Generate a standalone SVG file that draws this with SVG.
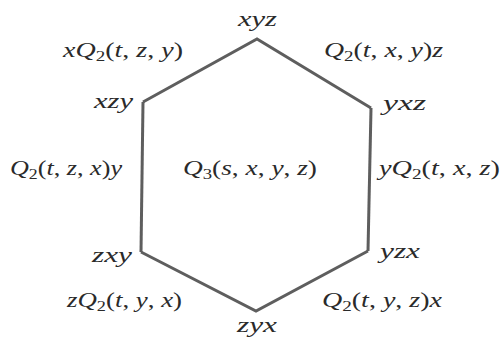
<svg xmlns="http://www.w3.org/2000/svg" width="503" height="338" viewBox="0 0 503 338">
<style>
text{font-family:"Liberation Serif","DejaVu Serif",serif;font-size:22px;fill:#2a2a2a}
.i{font-style:italic}
.s{font-size:15px}
.edge{fill:none;stroke:#5e5e5e;stroke-width:3;stroke-linejoin:miter}
</style>
<rect width="503" height="338" fill="#fff"/>
<g id="connectors">
<polyline class="edge" points="143,102 257,39 371,108"/>
<line class="edge" x1="143" y1="102" x2="141" y2="252"/>
<line class="edge" x1="371" y1="108" x2="368" y2="251"/>
<polyline class="edge" points="141,252 256,311 368,251"/>
</g>
<g id="v-xyz"><text x="238" y="26" class="i" textLength="39" lengthAdjust="spacingAndGlyphs">xyz</text></g>
<g id="v-xzy"><text x="94" y="108" class="i" textLength="39" lengthAdjust="spacingAndGlyphs">xzy</text></g>
<g id="v-yxz"><text x="383" y="110" class="i" textLength="43" lengthAdjust="spacingAndGlyphs">yxz</text></g>
<g id="v-zxy"><text x="92" y="262" class="i" textLength="40" lengthAdjust="spacingAndGlyphs">zxy</text></g>
<g id="v-yzx"><text x="380" y="258" class="i" textLength="40" lengthAdjust="spacingAndGlyphs">yzx</text></g>
<g id="v-zyx"><text x="237" y="332" class="i" textLength="40" lengthAdjust="spacingAndGlyphs">zyx</text></g>
<g id="e-top-left"><text x="63" y="57" textLength="120" lengthAdjust="spacingAndGlyphs"><tspan class="i">xQ</tspan><tspan class="s" dy="4">2</tspan><tspan dy="-4">(</tspan><tspan class="i">t</tspan>, <tspan class="i">z</tspan>, <tspan class="i">y</tspan>)</text></g>
<g id="e-top-right"><text x="324" y="57" textLength="119" lengthAdjust="spacingAndGlyphs"><tspan class="i">Q</tspan><tspan class="s" dy="4">2</tspan><tspan dy="-4">(</tspan><tspan class="i">t</tspan>, <tspan class="i">x</tspan>, <tspan class="i">y</tspan>)<tspan class="i">z</tspan></text></g>
<g id="e-left"><text x="10" y="175" textLength="112" lengthAdjust="spacingAndGlyphs"><tspan class="i">Q</tspan><tspan class="s" dy="4">2</tspan><tspan dy="-4">(</tspan><tspan class="i">t</tspan>, <tspan class="i">z</tspan>, <tspan class="i">x</tspan>)<tspan class="i">y</tspan></text></g>
<g id="face"><text x="183" y="175" textLength="134" lengthAdjust="spacingAndGlyphs"><tspan class="i">Q</tspan><tspan class="s" dy="4">3</tspan><tspan dy="-4">(</tspan><tspan class="i">s</tspan>, <tspan class="i">x</tspan>, <tspan class="i">y</tspan>, <tspan class="i">z</tspan>)</text></g>
<g id="e-right"><text x="379" y="175" textLength="121" lengthAdjust="spacingAndGlyphs"><tspan class="i">yQ</tspan><tspan class="s" dy="4">2</tspan><tspan dy="-4">(</tspan><tspan class="i">t</tspan>, <tspan class="i">x</tspan>, <tspan class="i">z</tspan>)</text></g>
<g id="e-bottom-left"><text x="67" y="307" textLength="115" lengthAdjust="spacingAndGlyphs"><tspan class="i">zQ</tspan><tspan class="s" dy="4">2</tspan><tspan dy="-4">(</tspan><tspan class="i">t</tspan>, <tspan class="i">y</tspan>, <tspan class="i">x</tspan>)</text></g>
<g id="e-bottom-right"><text x="322" y="307" textLength="120" lengthAdjust="spacingAndGlyphs"><tspan class="i">Q</tspan><tspan class="s" dy="4">2</tspan><tspan dy="-4">(</tspan><tspan class="i">t</tspan>, <tspan class="i">y</tspan>, <tspan class="i">z</tspan>)<tspan class="i">x</tspan></text></g>
</svg>
